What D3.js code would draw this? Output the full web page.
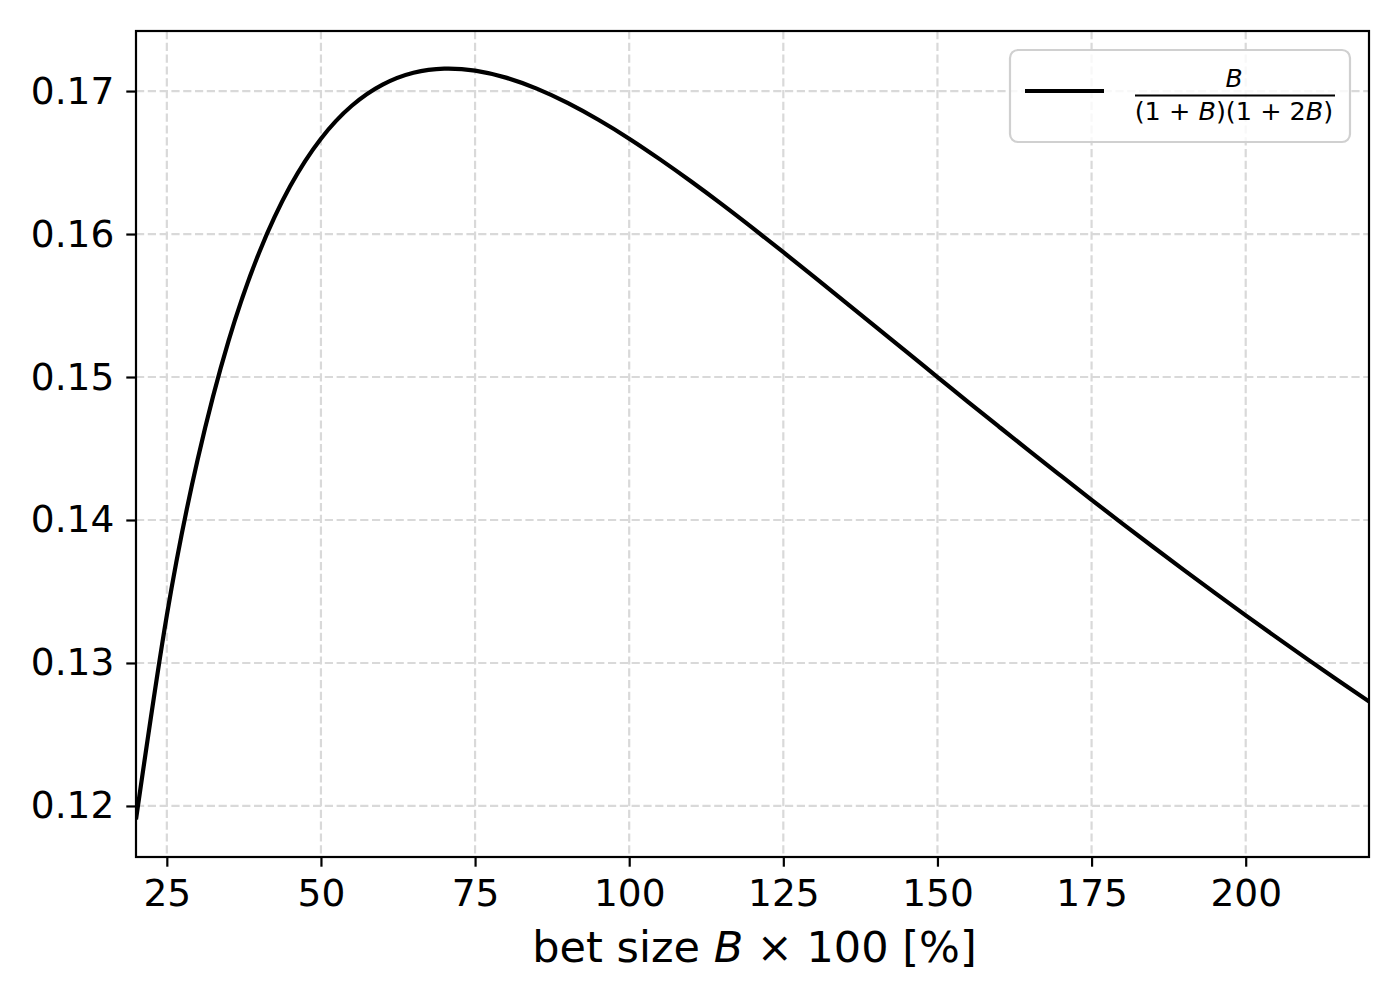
<!DOCTYPE html>
<html>
<head>
<meta charset="utf-8">
<script src="https://cdn.jsdelivr.net/npm/d3@7"></script>
<style>
  html, body { margin: 0; padding: 0; background: #fff; }
  svg { display: block; font-family: "DejaVu Sans", sans-serif; }
</style>
</head>
<body>
<svg id="chart" width="1400" height="1000"></svg>
<script>
// Values (bet size in %, curve value)
const betSize = [20, 25, 30, 35, 40, 45, 50, 55, 60, 65, 70, 75, 80, 85, 90, 95, 100, 105, 110, 115, 120, 125, 130, 135, 140, 145, 150, 155, 160, 165, 170, 175, 180, 185, 190, 195, 200, 205, 210, 215, 220];
const curveValue = [0.11905, 0.13333, 0.14423, 0.15251, 0.15873, 0.16334, 0.16667, 0.16897, 0.17045, 0.17128, 0.17157, 0.17143, 0.17094, 0.17017, 0.16917, 0.16799, 0.16667, 0.16522, 0.16369, 0.16209, 0.16043, 0.15873, 0.15700, 0.15526, 0.15351, 0.15175, 0.15000, 0.14825, 0.14652, 0.14480, 0.14310, 0.14141, 0.13975, 0.13811, 0.13649, 0.13490, 0.13333, 0.13179, 0.13027, 0.12878, 0.12731];
const xTicks = [25, 50, 75, 100, 125, 150, 175, 200];
const yTicks = [0.12, 0.13, 0.14, 0.15, 0.16, 0.17];
const xDomain = [20, 220];
const yDomain = [0.11643, 0.17420];

const svg = d3.select("#chart");
const L = 136, R = 1369, T = 31, B = 857;
const x = d3.scaleLinear().domain(xDomain).range([L, R]);
const y = d3.scaleLinear().domain(yDomain).range([B, T]);

// grid
const grid = svg.append("g");
grid.selectAll("line.gx").data(xTicks).enter().append("line")
  .attr("x1", d => x(d)).attr("x2", d => x(d)).attr("y1", T).attr("y2", B)
  .attr("stroke", "#d9d9d9").attr("stroke-width", 2.2).attr("stroke-dasharray", "8.2,3.6");
grid.selectAll("line.gy").data(yTicks).enter().append("line")
  .attr("x1", L).attr("x2", R).attr("y1", d => y(d)).attr("y2", d => y(d))
  .attr("stroke", "#d9d9d9").attr("stroke-width", 2.2).attr("stroke-dasharray", "8.2,3.6");

// curve
const data = betSize.map((b, i) => [b, curveValue[i]]);
svg.append("defs").append("clipPath").attr("id", "clip").append("rect")
  .attr("x", L).attr("y", T).attr("width", R - L).attr("height", B - T);
svg.append("path").datum(data)
  .attr("clip-path", "url(#clip)")
  .attr("fill", "none").attr("stroke", "#000").attr("stroke-width", 4.2)
  .attr("stroke-linejoin", "round")
  .attr("d", d3.line().x(d => x(d[0])).y(d => y(d[1])).curve(d3.curveNatural));

// axes
const xAxis = svg.append("g").attr("transform", `translate(0,${B})`)
  .call(d3.axisBottom(x).tickValues(xTicks).tickSize(9.7).tickPadding(12.5).tickFormat(d3.format("d")));
const yAxis = svg.append("g").attr("transform", `translate(${L},0)`)
  .call(d3.axisLeft(y).tickValues(yTicks).tickSize(9.7).tickPadding(12).tickFormat(d3.format(".2f")));
[xAxis, yAxis].forEach(a => {
  a.select(".domain").remove();
  a.selectAll(".tick line").attr("stroke", "#000").attr("stroke-width", 2.2);
  a.selectAll(".tick text").attr("font-family", "DejaVu Sans").attr("font-size", 37.5).attr("fill", "#000");
});

// frame
svg.append("rect").attr("x", L).attr("y", T).attr("width", R - L).attr("height", B - T)
  .attr("fill", "none").attr("stroke", "#000").attr("stroke-width", 2.2);

// x label
const xl = svg.append("text").attr("x", (L + R) / 2 + 2).attr("y", 962)
  .attr("text-anchor", "middle").attr("font-size", 43).attr("fill", "#000");
xl.append("tspan").text("bet size ");
xl.append("tspan").attr("font-style", "italic").text("B");
xl.append("tspan").text(" × 100 [%]");

// legend
const lg = svg.append("g");
lg.append("rect").attr("x", 1010).attr("y", 50).attr("width", 340).attr("height", 92)
  .attr("rx", 8).attr("fill", "#fff").attr("fill-opacity", 0.8)
  .attr("stroke", "#d0d0d0").attr("stroke-width", 2.2);
lg.append("line").attr("x1", 1025).attr("x2", 1104).attr("y1", 91).attr("y2", 91)
  .attr("stroke", "#000").attr("stroke-width", 4.2);
lg.append("text").attr("x", 1234).attr("y", 87).attr("text-anchor", "middle")
  .attr("font-size", 25).attr("font-style", "italic").text("B");
lg.append("line").attr("x1", 1135).attr("x2", 1335).attr("y1", 95.5).attr("y2", 95.5)
  .attr("stroke", "#000").attr("stroke-width", 2);
const den = lg.append("text").attr("x", 1234).attr("y", 120).attr("text-anchor", "middle")
  .attr("font-size", 25.5);
den.append("tspan").text("(1 + ");
den.append("tspan").attr("font-style", "italic").text("B");
den.append("tspan").text(")(1 + 2");
den.append("tspan").attr("font-style", "italic").text("B");
den.append("tspan").text(")");
</script>
</body>
</html>
